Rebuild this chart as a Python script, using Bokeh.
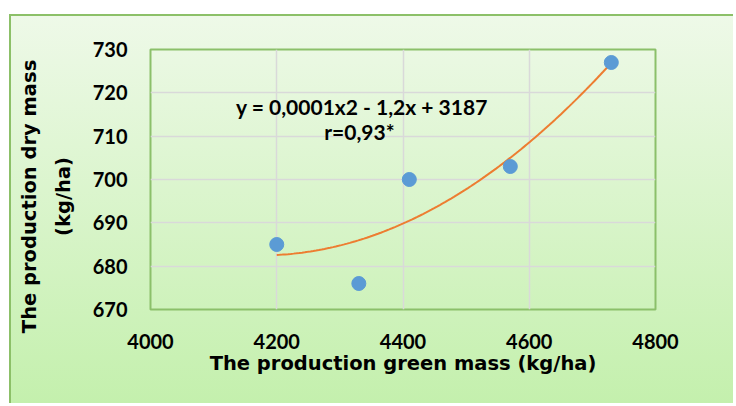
import numpy as np
from bokeh.plotting import figure
from bokeh.models import Label, Range1d, FixedTicker
from bokeh.embed import file_html
from bokeh.resources import INLINE

green_mass = [4200, 4330, 4410, 4570, 4730]
dry_mass = [685, 676, 700, 703, 727]
x_ticks = [4000, 4200, 4400, 4600, 4800]
y_ticks = [670, 680, 690, 700, 710, 720, 730]
equation = "y = 0,0001x2 - 1,2x + 3187"
corr = "r=0,93*"
x_title = "The production green mass (kg/ha)"
y_title = ["The production dry mass", "(kg/ha)"]

FONT = "Lato"
TITLE_FONT = "DejaVu Sans"
PAD = "\u00a0" * 5  # shifts the centred y title slightly downward, as in the original

p = figure(width=724, height=389, output_backend="svg", toolbar_location=None,
           x_range=Range1d(4000, 4800), y_range=Range1d(670, 730),
           min_border_left=139, min_border_right=80, min_border_top=33, min_border_bottom=96)
p.styles = {"margin-left": "9px", "margin-top": "14px",
            "border-left": "2px solid #8cc068", "border-top": "2px solid #8cc068",
            "background": "linear-gradient(#eef9e8, #c4f0ad)"}
p.border_fill_alpha = 0
p.background_fill_alpha = 0
p.outline_line_color = "#8bc06a"
p.outline_line_width = 2

# trend line (2nd-order polynomial fit of the data)
coef = np.polyfit(green_mass, dry_mass, 2)
xs = np.linspace(min(green_mass), max(green_mass), 120)
p.line(xs, np.polyval(coef, xs), line_color="#ED7D31", line_width=2)
p.scatter(green_mass, dry_mass, size=14, fill_color="#5B9BD5", line_color="#5B9BD5")

for ax in (p.xaxis[0], p.yaxis[0]):
    ax.axis_line_color = None
    ax.major_tick_line_color = None
    ax.minor_tick_line_color = None
    ax.major_tick_out = 0
    ax.major_tick_in = 0
    ax.minor_tick_out = 0
    ax.major_label_text_font = FONT
    ax.major_label_text_font_style = "bold"
    ax.major_label_text_font_size = "20px"
    ax.major_label_text_color = "#000000"
    ax.axis_label_text_font = TITLE_FONT
    ax.axis_label_text_font_style = "bold"
    ax.axis_label_text_font_size = "19.5px"
    ax.axis_label_text_color = "#000000"

p.xaxis.ticker = FixedTicker(ticks=x_ticks)
p.yaxis.ticker = FixedTicker(ticks=y_ticks)
p.xaxis.major_label_standoff = 24
p.yaxis.major_label_standoff = 23
p.xaxis.axis_label = x_title
p.xaxis.axis_label_standoff = 0
p.yaxis.axis_label = y_title[0] + PAD + "\n" + y_title[1] + PAD
p.yaxis.axis_label_standoff = 15
p.yaxis.axis_label_text_line_height = 1.47

p.grid.grid_line_color = "#d9d9d9"
p.grid.grid_line_width = 1.5

lab = dict(text_font=FONT, text_font_style="bold", text_color="#000000")
p.add_layout(Label(x=4335, y=716.9, text=equation, text_align="center", text_baseline="middle",
                   text_font_size="21px", **lab))
p.add_layout(Label(x=4331, y=711.1, text=corr, text_align="center", text_baseline="middle",
                   text_font_size="21px", **lab))

open("out.html", "w").write(file_html(p, INLINE))
